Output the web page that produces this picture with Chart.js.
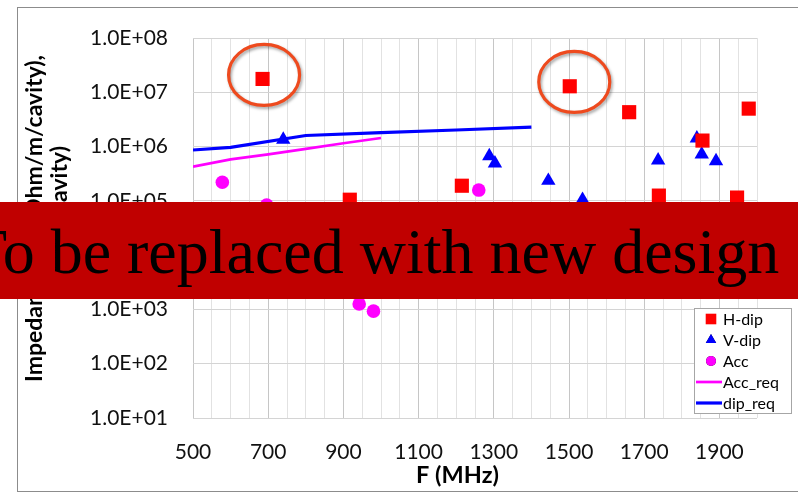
<!DOCTYPE html>
<html><head><meta charset="utf-8">
<script src="https://cdn.jsdelivr.net/npm/chart.js@4.4.0/dist/chart.umd.min.js"></script>
<style>
html,body{margin:0;padding:0;background:#fff;overflow:hidden;}
#wrap{position:relative;width:798px;height:498px;overflow:hidden;}
#frame{position:absolute;left:17px;top:7px;width:800px;height:485px;border:1px solid #8c8c8c;box-sizing:border-box;}
#c{position:absolute;left:0;top:0;}
#banner{position:absolute;left:0;top:202px;width:798px;height:97px;background:#C00000;overflow:hidden;}
#banner span{position:absolute;left:-32px;top:18px;font-family:'Liberation Serif','Times New Roman',serif;font-size:64px;line-height:64px;white-space:nowrap;color:#000;}
</style></head>
<body>
<div id="wrap">
<div id="frame"></div>
<canvas id="c" width="798" height="498"></canvas>
<div id="banner"><span id="bannerText"></span></div>
</div>
<script>
// ---- data ----
const hDipF = [685, 917, 1215, 1502, 1660, 1739, 1855, 1947, 1978];
const hDipZ = [1.76e7, 1.05e5, 1.9e5, 1.29e7, 4.3e6, 1.25e5, 1.29e6, 1.15e5, 5.0e6];
const vDipF = [740, 1288, 1303, 1445, 1536, 1737, 1840, 1853, 1891];
const vDipZ = [1.35e6, 6.7e5, 4.9e5, 2.35e5, 1.05e5, 5.6e5, 1.42e6, 7.2e5, 5.4e5];
const accF = [578, 696, 942, 980, 1260];
const accZ = [2.2e5, 8.4e4, 1.26e3, 9.3e2, 1.58e5];
const accReqF = [500, 600, 700, 800, 900, 1000];
const accReqZ = [4.27e5, 5.8e5, 7.2e5, 9.1e5, 1.15e6, 1.44e6];
const dipReqF = [500, 600, 800, 1000, 1200, 1400];
const dipReqZ = [8.65e5, 9.7e5, 1.6e6, 1.8e6, 2.02e6, 2.29e6];
const seriesNames = ['H-dip', 'V-dip', 'Acc', 'Acc_req', 'dip_req'];
const xTickLabels = [500, 700, 900, 1100, 1300, 1500, 1700, 1900];
const yTickValues = [1e1, 1e2, 1e3, 1e4, 1e5, 1e6, 1e7, 1e8];
const xAxisTitle = 'F (MHz)';
const yAxisTitle = ['Impedance Z\u22A5 (Ohm/m/cavity),', 'Z\u2225 (Ohm/cavity)'];
const bannerText = 'To be replaced with new design';
// highlighted (circled) points, data units
const circleF = [689, 1514];
const circleZ = [2.09e7, 1.55e7];

document.getElementById('bannerText').textContent = bannerText;
const pts = (xs, ys) => xs.map((x, i) => ({x: x, y: ys[i]}));
const fmtE = v => { const e = Math.round(Math.log10(v)); return '1.0E+' + (e < 10 ? '0' : '') + e; };

function fitText(ctx, text, target) {
  // stretch/shrink only the inter-word spaces so the line spans the target length
  const nSp = (text.match(/ /g) || []).length;
  if (!('wordSpacing' in ctx) || !nSp) return;
  ctx.wordSpacing = '0px';
  const w0 = ctx.measureText(text).width;
  ctx.wordSpacing = ((target - w0) / nSp) + 'px';
}

const extras = {
  id: 'extras',
  afterDatasetsDraw(chart) {
    const {ctx, scales} = chart;
    ctx.save();
    ctx.strokeStyle = 'rgb(238,74,30)';
    ctx.lineWidth = 3.2;
    ctx.shadowColor = 'rgba(0,0,0,0.35)';
    ctx.shadowBlur = 3; ctx.shadowOffsetX = 1.5; ctx.shadowOffsetY = 2;
    circleF.forEach((f, i) => {
      const px = scales.x.getPixelForValue(f), py = scales.y.getPixelForValue(circleZ[i]);
      ctx.beginPath(); ctx.ellipse(px, py, 35.5, 30.5, 0, 0, Math.PI * 2); ctx.stroke();
    });
    ctx.restore();
  },
  afterDraw(chart) {
    const ctx = chart.ctx;
    ctx.save();
    ctx.fillStyle = '#000';
    ctx.textBaseline = 'alphabetic';
    // x title
    ctx.font = 'bold 23.5px Lato';
    ctx.textAlign = 'center';
    ctx.fillText(xAxisTitle, 457.5, 483);
    // y title (two lines, rotated)
    ctx.font = 'bold 23px Lato';
    ctx.save(); ctx.translate(42, 382); ctx.rotate(-Math.PI / 2);
    ctx.textAlign = 'left';
    fitText(ctx, yAxisTitle[0], 327);
    ctx.fillText(yAxisTitle[0], 0, 0);
    ctx.restore();
    ctx.save(); ctx.translate(67, 146); ctx.rotate(-Math.PI / 2);
    ctx.textAlign = 'right';
    fitText(ctx, yAxisTitle[1], 148);
    ctx.fillText(yAxisTitle[1], 0, 0); ctx.restore();
    if ('wordSpacing' in ctx) ctx.wordSpacing = '0px';
    // legend
    const lx = 694, ly = 308, lw = 97, lh = 105;
    ctx.fillStyle = '#fff'; ctx.fillRect(lx, ly, lw, lh);
    ctx.strokeStyle = '#a6a6a6'; ctx.lineWidth = 1;
    ctx.strokeRect(lx + 0.5, ly + 0.5, lw, lh);
    ctx.font = '16px Lato'; ctx.textAlign = 'left'; ctx.textBaseline = 'middle';
    chart.data.datasets.forEach((ds, i) => {
      const cy = ly + 11 + i * 21;
      if (ds.showLine) {
        ctx.strokeStyle = ds.borderColor; ctx.lineWidth = ds.borderWidth;
        ctx.beginPath(); ctx.moveTo(lx + 2, cy); ctx.lineTo(lx + 28, cy); ctx.stroke();
      } else {
        Chart.helpers.drawPoint(ctx, {pointStyle: ds.pointStyle, radius: ds.legendRadius, borderWidth: 0, rotation: 0}, lx + 17, cy);
        ctx.fillStyle = ds.backgroundColor; ctx.fill();
      }
      ctx.fillStyle = '#000';
      ctx.fillText(ds.label, lx + 29, cy + 1);
    });
    ctx.restore();
  }
};

function draw() {
  new Chart(document.getElementById('c'), {
    type: 'scatter',
    data: {
      datasets: [
        {label: seriesNames[0], data: pts(hDipF, hDipZ), pointStyle: 'rect', pointRadius: 10, legendRadius: 7.5,
         backgroundColor: '#FF0000', borderColor: '#FF0000', borderWidth: 0, pointHoverRadius: 10},
        {label: seriesNames[1], data: pts(vDipF, vDipZ), pointStyle: 'triangle', pointRadius: 8.3, legendRadius: 6,
         backgroundColor: '#0000FF', borderColor: '#0000FF', borderWidth: 0},
        {label: seriesNames[2], data: pts(accF, accZ), pointStyle: 'circle', pointRadius: 6.8, legendRadius: 5,
         backgroundColor: '#FF00FF', borderColor: '#FF00FF', borderWidth: 0},
        {label: seriesNames[3], data: pts(accReqF, accReqZ), showLine: true, pointRadius: 0,
         borderColor: '#FF00FF', backgroundColor: '#FF00FF', borderWidth: 2.7, tension: 0},
        {label: seriesNames[4], data: pts(dipReqF, dipReqZ), showLine: true, pointRadius: 0,
         borderColor: '#0000FF', backgroundColor: '#0000FF', borderWidth: 3.2, tension: 0}
      ]
    },
    options: {
      responsive: false, animation: false, devicePixelRatio: 1,
      layout: {padding: {left: 0, top: 38, right: 41, bottom: 0}},
      plugins: {legend: {display: false}, tooltip: {enabled: false}, title: {display: false}},
      scales: {
        x: {
          type: 'linear', min: 500, max: 2000,
          afterBuildTicks: s => { const t = []; for (let v = 500; v <= 2000; v += 50) t.push({value: v}); s.ticks = t; },
          afterFit: s => { s.height = 80; },
          ticks: {autoSkip: false, maxRotation: 0, minRotation: 0, padding: 22, color: '#111',
                  font: {family: 'Lato', size: 21},
                  callback: v => xTickLabels.includes(v) ? String(v) : ''},
          grid: {drawTicks: false, lineWidth: 1,
                 color: c => (xTickLabels.includes(c.tick.value) ? '#c6c6c6' : '#e2e2e2')},
          border: {display: false}
        },
        y: {
          type: 'logarithmic', min: 10, max: 1e8,
          afterBuildTicks: s => { s.ticks = yTickValues.map(v => ({value: v})); },
          afterFit: s => { s.width = 193; },
          ticks: {autoSkip: false, padding: 25, color: '#111', font: {family: 'Lato', size: 21},
                  callback: v => fmtE(v)},
          grid: {drawTicks: false, lineWidth: 1, color: '#d4d4d4'},
          border: {display: false}
        }
      }
    },
    plugins: [extras]
  });
}
const fl = document.fonts ? Promise.all([document.fonts.load('21px Lato'), document.fonts.load('bold 23px Lato'), document.fonts.load('64px "Liberation Serif"')]) : Promise.resolve();
fl.then(draw, draw);
</script>
</body></html>
